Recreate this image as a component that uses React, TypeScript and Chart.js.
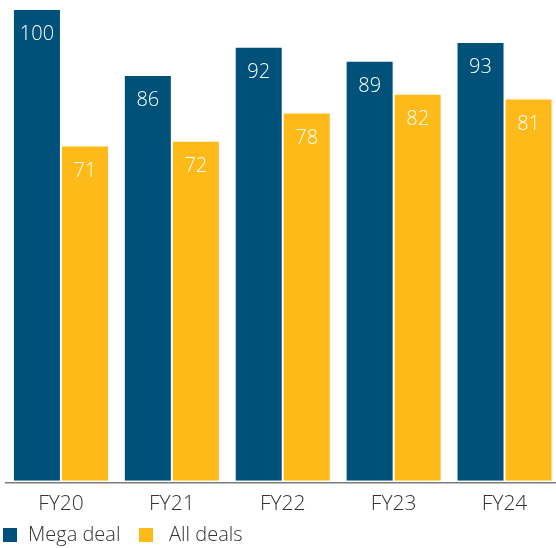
import { useEffect, useRef } from "react";
import { Chart, registerables } from "chart.js";

Chart.register(...registerables);

const categories = ["FY20", "FY21", "FY22", "FY23", "FY24"];
const megaDeal = [100, 86, 92, 89, 93];
const allDeals = [71, 72, 78, 82, 81];
const seriesNames = ["Mega deal", "All deals"];
const seriesColors = ["#00517A", "#FDBA18"];

const FONT = "'Open Sans', 'Noto Sans', sans-serif";
const TEXT_DARK = "#333333";

// Baseline rule drawn just under the bars, with a small gap.
const baselinePlugin = {
  id: "baselineRule",
  afterDatasetsDraw(chart: any) {
    const { ctx, chartArea } = chart;
    ctx.save();
    ctx.strokeStyle = "#7b7b7b";
    ctx.lineWidth = 1.5;
    ctx.beginPath();
    ctx.moveTo(chartArea.left - 0.5, chartArea.bottom + 2);
    ctx.lineTo(chartArea.right, chartArea.bottom + 2);
    ctx.stroke();
    ctx.restore();
  },
};

// White value labels just inside the top of each bar.
const valueLabelPlugin = {
  id: "valueLabels",
  afterDatasetsDraw(chart: any) {
    const { ctx } = chart;
    ctx.save();
    ctx.fillStyle = "#ffffff";
    ctx.font = `300 20px ${FONT}`;
    ctx.textAlign = "center";
    ctx.textBaseline = "middle";
    chart.data.datasets.forEach((ds: any, i: number) => {
      const meta = chart.getDatasetMeta(i);
      meta.data.forEach((bar: any, j: number) => {
        ctx.fillText(String(ds.data[j]), bar.x, bar.y + 24.5);
      });
    });
    ctx.restore();
  },
};

// Legend row along the bottom-left edge.
const legendBoxX = [3, 139];
const legendTextGap = [11, 16];
const legendPlugin = {
  id: "bottomLegend",
  afterDraw(chart: any) {
    const { ctx } = chart;
    const y = 535;
    ctx.save();
    ctx.font = `300 20px ${FONT}`;
    ctx.textBaseline = "middle";
    ctx.textAlign = "left";
    chart.data.datasets.forEach((ds: any, i: number) => {
      const x = legendBoxX[i];
      ctx.fillStyle = ds.backgroundColor;
      ctx.fillRect(x, y - 7, 14, 14);
      ctx.fillStyle = TEXT_DARK;
      ctx.fillText(ds.label, x + 14 + legendTextGap[i], y);
    });
    ctx.restore();
  },
};

export default function App() {
  const canvasRef = useRef<HTMLCanvasElement | null>(null);

  useEffect(() => {
    document.body.style.margin = "0";
    const canvas = canvasRef.current;
    if (!canvas) return;
    const chart = new Chart(canvas, {
      type: "bar",
      data: {
        labels: categories,
        datasets: [
          {
            label: seriesNames[0],
            data: megaDeal,
            backgroundColor: seriesColors[0],
            categoryPercentage: 0.866,
            barPercentage: 0.958,
          },
          {
            label: seriesNames[1],
            data: allDeals,
            backgroundColor: seriesColors[1],
            categoryPercentage: 0.866,
            barPercentage: 0.958,
          },
        ],
      },
      options: {
        animation: false,
        responsive: false,
        devicePixelRatio: 1,
        layout: { padding: { top: 10, left: 5.5, right: 1, bottom: 20 } },
        plugins: {
          legend: { display: false },
          tooltip: { enabled: false },
        },
        scales: {
          x: {
            grid: { display: false, drawTicks: false, tickLength: 0 },
            border: { display: false },
            ticks: {
              color: TEXT_DARK,
              font: { family: FONT, size: 21, weight: 300 },
              padding: 11,
              maxRotation: 0,
            },
          },
          y: {
            display: false,
            min: 0,
            max: 100,
          },
        },
      },
      plugins: [baselinePlugin, valueLabelPlugin, legendPlugin],
    });
    return () => chart.destroy();
  }, []);

  return (
    <div
      style={{
        position: "fixed",
        left: 0,
        top: 0,
        width: 556,
        height: 548,
        overflow: "hidden",
        background: "#ffffff",
      }}
    >
      <canvas ref={canvasRef} width={561} height={548} style={{ display: "block" }} />
    </div>
  );
}
